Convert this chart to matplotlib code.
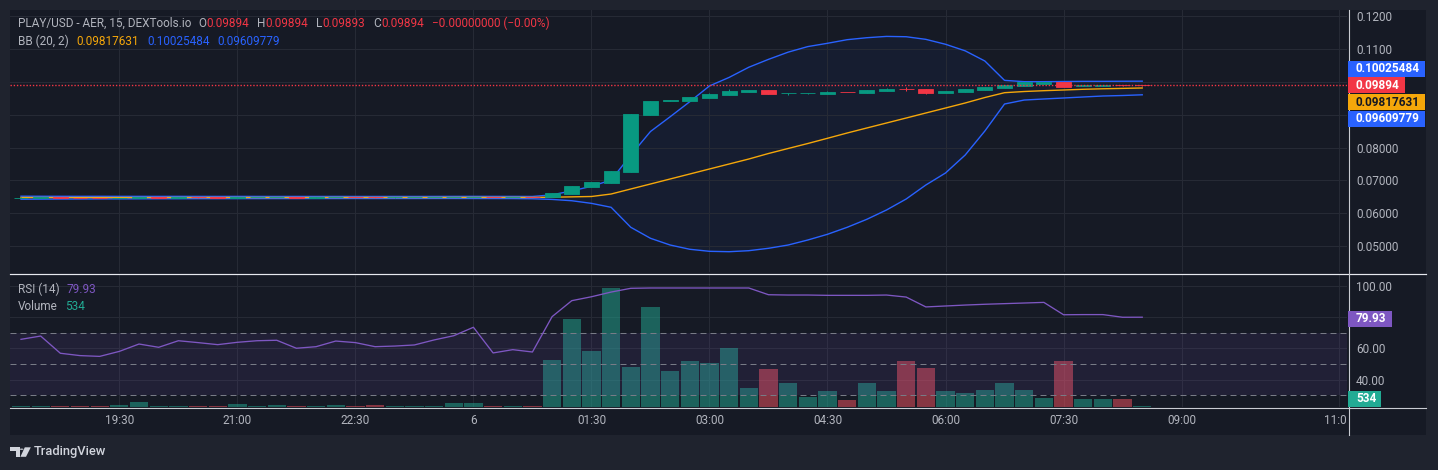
import matplotlib
matplotlib.use("Agg")
import matplotlib.pyplot as plt
from matplotlib.patches import Rectangle, Polygon, Circle
from matplotlib.lines import Line2D

plt.rcParams['font.family'] = ['Roboto', 'DejaVu Sans']
plt.rcParams['lines.scale_dashes'] = False

# ---------------- data (15-minute candles, first = 18:15, last = 08:30) ----------------
opens = [0.06476, 0.06478, 0.06480, 0.06475, 0.06472, 0.06470, 0.06474, 0.06479, 0.06477, 0.06481,
         0.06479, 0.06477, 0.06480, 0.06482, 0.06483, 0.06478, 0.06480, 0.06483, 0.06481, 0.06479,
         0.06480, 0.06481, 0.06484, 0.06487, 0.06492, 0.06485, 0.06487, 0.06490, 0.06600, 0.06800,
         0.06930, 0.07270, 0.09000, 0.09435, 0.09430, 0.09525, 0.09610, 0.09700, 0.09760, 0.09650,
         0.09650, 0.09630, 0.09690, 0.09660, 0.09730, 0.09790, 0.09790, 0.09670, 0.09700, 0.09760,
         0.09820, 0.09890, 0.09950, 0.10000, 0.09890, 0.09890, 0.09910, 0.09894]
highs = [0.06479, 0.06481, 0.06481, 0.06476, 0.06473, 0.06475, 0.06480, 0.06480, 0.06482, 0.06482,
         0.06480, 0.06481, 0.06483, 0.06484, 0.06484, 0.06481, 0.06484, 0.06484, 0.06482, 0.06481,
         0.06482, 0.06485, 0.06488, 0.06493, 0.06493, 0.06488, 0.06488, 0.06625, 0.06835, 0.06955,
         0.07290, 0.09030, 0.09425, 0.09442, 0.09545, 0.09660, 0.09790, 0.09765, 0.09765, 0.09658,
         0.09658, 0.09720, 0.09692, 0.09765, 0.09820, 0.09850, 0.09792, 0.09732, 0.09792, 0.09852,
         0.09912, 0.09992, 0.10002, 0.10002, 0.09912, 0.09912, 0.09912, 0.09894]
lows = [0.06475, 0.06477, 0.06474, 0.06471, 0.06469, 0.06469, 0.06473, 0.06476, 0.06476, 0.06478,
        0.06476, 0.06476, 0.06479, 0.06481, 0.06477, 0.06477, 0.06479, 0.06480, 0.06478, 0.06478,
        0.06479, 0.06480, 0.06483, 0.06486, 0.06484, 0.06484, 0.06483, 0.06485, 0.06595, 0.06798,
        0.06925, 0.07265, 0.08998, 0.09430, 0.09428, 0.09523, 0.09608, 0.09698, 0.09630, 0.09600,
        0.09648, 0.09628, 0.09682, 0.09658, 0.09728, 0.09730, 0.09630, 0.09668, 0.09698, 0.09758,
        0.09818, 0.09888, 0.09948, 0.09855, 0.09888, 0.09888, 0.09888, 0.09893]
closes = [0.06478, 0.06480, 0.06475, 0.06472, 0.06470, 0.06474, 0.06479, 0.06477, 0.06481, 0.06479,
          0.06477, 0.06480, 0.06482, 0.06483, 0.06478, 0.06480, 0.06483, 0.06481, 0.06479, 0.06480,
          0.06481, 0.06484, 0.06487, 0.06492, 0.06485, 0.06487, 0.06484, 0.06616, 0.06829, 0.06951,
          0.07287, 0.09024, 0.09421, 0.09440, 0.09543, 0.09630, 0.09730, 0.09760, 0.09635, 0.09655,
          0.09655, 0.09700, 0.09684, 0.09760, 0.09790, 0.09780, 0.09670, 0.09730, 0.09790, 0.09850,
          0.09910, 0.09990, 0.10000, 0.09860, 0.09910, 0.09910, 0.09895, 0.09894]
candle_up = [1, 1, 0, 0, 0, 1, 1, 0, 1, 0, 0, 1, 1, 1, 0, 1, 1, 0, 0, 1, 1, 1, 1, 1, 0, 1, 0, 1, 1, 1,
             1, 1, 1, 1, 1, 1, 1, 1, 0, 1, 1, 1, 0, 1, 1, 0, 0, 1, 1, 1, 1, 1, 1, 0, 1, 1, 0, 0]

bb_upper = [0.06518, 0.06516, 0.06515, 0.06514, 0.06515, 0.06513, 0.06513, 0.06512, 0.06513, 0.06512,
            0.06511, 0.06512, 0.06511, 0.06510, 0.06511, 0.06510, 0.06511, 0.06510, 0.06510, 0.06511,
            0.06510, 0.06511, 0.06512, 0.06513, 0.06512, 0.06512, 0.06510, 0.06560, 0.06680, 0.06820,
            0.07010, 0.07770, 0.08490, 0.08940, 0.09400, 0.09880, 0.10140, 0.10450, 0.10690, 0.10910,
            0.11080, 0.11180, 0.11290, 0.11350, 0.11390, 0.11380, 0.11300, 0.11150, 0.10950, 0.10640,
            0.10050, 0.10010, 0.10010, 0.10015, 0.10020, 0.10020, 0.10023, 0.10025484]
bb_mid = [0.06478, 0.06478, 0.06477, 0.06477, 0.06477, 0.06477, 0.06477, 0.06477, 0.06478, 0.06478,
          0.06478, 0.06478, 0.06478, 0.06478, 0.06478, 0.06478, 0.06479, 0.06479, 0.06479, 0.06479,
          0.06479, 0.06479, 0.06480, 0.06481, 0.06481, 0.06481, 0.06481, 0.06488, 0.06498, 0.06509,
          0.06585, 0.06738, 0.06890, 0.07043, 0.07195, 0.07348, 0.07500, 0.07652, 0.07820, 0.07973,
          0.08125, 0.08284, 0.08445, 0.08598, 0.08750, 0.08902, 0.09055, 0.09207, 0.09360, 0.09527,
          0.09674, 0.09710, 0.09735, 0.09756, 0.09778, 0.09793, 0.09805, 0.09817631]
bb_lower = [0.06425, 0.06428, 0.06431, 0.06432, 0.06435, 0.06436, 0.06438, 0.06440, 0.06441, 0.06443,
            0.06443, 0.06444, 0.06445, 0.06446, 0.06445, 0.06447, 0.06447, 0.06448, 0.06447, 0.06448,
            0.06448, 0.06449, 0.06449, 0.06448, 0.06447, 0.06446, 0.06440, 0.06420, 0.06380, 0.06300,
            0.06180, 0.05570, 0.05235, 0.05030, 0.04900, 0.04838, 0.04826, 0.04857, 0.04930, 0.05030,
            0.05183, 0.05357, 0.05570, 0.05814, 0.06098, 0.06433, 0.06860, 0.07226, 0.07774, 0.08506,
            0.09329, 0.09450, 0.09482, 0.09512, 0.09543, 0.09573, 0.09588, 0.09609779]

rsi = [65.8, 67.9, 56.9, 55.4, 54.9, 58.1, 62.8, 60.7, 64.9, 63.7,
       62.4, 63.9, 64.9, 65.2, 60.1, 61.1, 64.7, 63.7, 61.1, 61.5,
       62.2, 65.4, 68.1, 73.5, 57.1, 59.2, 57.7, 80.3, 90.5, 93.0,
       96.0, 98.4, 98.6, 98.6, 98.6, 98.6, 98.6, 98.6, 94.3, 94.1,
       94.1, 93.9, 93.9, 93.9, 94.1, 92.8, 86.5, 87.1, 87.7, 88.2,
       88.6, 89.0, 89.4, 81.5, 81.6, 81.6, 79.9, 79.93]

volume = [480, 470, 510, 490, 500, 1020, 2820, 380, 480, 470,
          500, 1620, 490, 1030, 480, 500, 1010, 470, 1040, 480,
          490, 510, 2230, 2210, 480, 470, 490, 28000, 53000, 33400,
          71200, 23800, 59800, 21400, 27400, 26200, 35200, 11200, 22600, 14200,
          5800, 9400, 4000, 14200, 9400, 27400, 23200, 9400, 8200, 10000,
          14200, 10000, 5200, 27400, 4600, 4600, 4600, 534]
volume_up = [1, 1, 0, 0, 0, 1, 1, 1, 1, 0, 0, 1, 1, 1, 0, 1, 1, 0, 0, 1, 1, 1, 1, 1, 0, 1, 0, 1, 1, 1,
             1, 1, 1, 1, 1, 1, 1, 1, 0, 1, 1, 1, 0, 1, 1, 0, 0, 1, 1, 1, 1, 1, 1, 0, 1, 1, 0, 1]

time_tick_idx = [5, 11, 17, 23, 29, 35, 41, 47, 53, 59, 67]
time_tick_labels = ["19:30", "21:00", "22:30", "6", "01:30", "03:00", "04:30", "06:00", "07:30", "09:00", "11:00"]

price_ticks = [0.05, 0.06, 0.07, 0.08, 0.09, 0.10, 0.11, 0.12]
price_tick_labels = ["0.05000", "0.06000", "0.07000", "0.08000", "", "", "0.1100", "0.1200"]
rsi_ticks = [40, 60, 80, 100]
rsi_tick_labels = ["40.00", "60.00", "", "100.00"]

symbol = "PLAY/USD - AER, 15, DEXTools.io"
bb_name = "BB (20, 2)"

# ---------------- style ----------------
W, H, DPI = 1438, 470, 100
FRAME = '#1f232e'
PANEL = '#161a25'
GRID = '#262a35'
TXT = '#b2b5be'
GREEN = '#089981'
RED = '#f23645'
BLUE = '#2962ff'
ORANGE = '#f5a70a'
PURPLE = '#7e57c2'
VGREEN = '#22ab94'
VRED = '#f7525f'
FS = 8.5
PX = 0.72  # one pixel in points

fig = plt.figure(figsize=(W / DPI, H / DPI), dpi=DPI, facecolor=FRAME)


def rect(x0, y0, x1, y1):
    return [x0 / W, 1 - y1 / H, (x1 - x0) / W, (y1 - y0) / H]


def fx(x):
    return x / W


def fy(y):
    return 1 - y / H


fig.patches.append(Rectangle((fx(10), fy(435)), (1416) / W, 425 / H, transform=fig.transFigure,
                             facecolor=PANEL, edgecolor='none', zorder=-10))

XMIN, XMAX = -0.559, 67.41
n = len(closes)
idx = list(range(n))

# ---------------- price pane ----------------
ax_p = fig.add_axes(rect(10, 10, 1347, 272), facecolor=PANEL)
ax_p.set_xlim(XMIN, XMAX)
ax_p.set_ylim(0.042073, 0.12195)
ax_p.set_xticks(time_tick_idx)
ax_p.set_xticklabels([])
ax_p.set_yticks(price_ticks)
ax_p.set_yticklabels(price_tick_labels)
ax_p.yaxis.tick_right()
ax_p.tick_params(axis='both', length=0, labelsize=FS, labelcolor=TXT, pad=6.5)
ax_p.grid(True, color=GRID, lw=1 * PX)
for s in ax_p.spines.values():
    s.set_visible(False)

ax_p.fill_between(idx, bb_lower, bb_upper, color=BLUE, alpha=0.05, lw=0, zorder=1)
ax_p.plot(idx, bb_upper, color=BLUE, lw=1.0, zorder=2)
ax_p.plot(idx, bb_lower, color=BLUE, lw=1.0, zorder=2)
ax_p.plot(idx, bb_mid, color=ORANGE, lw=1.0, zorder=2)

ccol = [GREEN if u else RED for u in candle_up]
ax_p.vlines(idx, lows, highs, colors=ccol, lw=1 * PX, zorder=3)
bottoms = [min(o, c) for o, c in zip(opens, closes)]
heights = [abs(c - o) for o, c in zip(opens, closes)]
ax_p.bar(idx, heights, bottom=bottoms, width=0.76, color=ccol, edgecolor=ccol, linewidth=0.6, zorder=4)

ax_p.axhline(closes[-1], color=RED, lw=1.0, ls=(0, (1.0, 1.3)), zorder=5)

# ---------------- RSI / volume pane ----------------
pane = rect(10, 274, 1347, 407)
RSI_LIM = (22.56, 107.54)
ax_g = fig.add_axes(pane, facecolor=PANEL)
ax_g.set_xlim(XMIN, XMAX)
ax_g.set_ylim(*RSI_LIM)
ax_g.set_xticks(time_tick_idx)
ax_g.set_xticklabels([])
ax_g.set_yticks(rsi_ticks)
ax_g.set_yticklabels(rsi_tick_labels)
ax_g.yaxis.tick_right()
ax_g.tick_params(axis='both', length=0, labelsize=FS, labelcolor=TXT, pad=6.5)
ax_g.grid(True, color=GRID, lw=1 * PX)
for s in ax_g.spines.values():
    s.set_visible(False)

ax_v = fig.add_axes(pane, facecolor='none')
ax_v.set_xlim(XMIN, XMAX)
ax_v.set_ylim(0, 79800)
ax_v.axis('off')
vcol = [VGREEN if u else VRED for u in volume_up]
ax_v.bar(idx, volume, width=0.93, color=vcol, alpha=0.5, lw=0)

ax_r = fig.add_axes(pane, facecolor='none')
ax_r.set_xlim(XMIN, XMAX)
ax_r.set_ylim(*RSI_LIM)
ax_r.axis('off')
ax_r.axhspan(30, 70, color=PURPLE, alpha=0.11, lw=0)
for lvl in (70, 50, 30):
    ax_r.axhline(lvl, color='#787b86', lw=1 * PX, ls=(0, (4.3, 2.9)))
ax_r.plot(idx, rsi, color=PURPLE, lw=0.95)

# ---------------- time axis ----------------
ax_t = fig.add_axes(rect(10, 407, 1347, 435), facecolor='none')
ax_t.set_xlim(XMIN, XMAX)
ax_t.set_ylim(0, 1)
ax_t.axis('off')
for i, lab in zip(time_tick_idx, time_tick_labels):
    ax_t.text(i, 0.5, lab, color=TXT, fontsize=FS, ha='center', va='center', clip_on=True)

# ---------------- borders ----------------
fig.add_artist(Line2D([fx(10), fx(1426)], [fy(273.5)] * 2, transform=fig.transFigure,
                      color='#e6e8ee', lw=1.2 * PX))
fig.add_artist(Line2D([fx(10), fx(1426)], [fy(407.5)] * 2, transform=fig.transFigure,
                      color='#c9ccd3', lw=1.1 * PX))
fig.add_artist(Line2D([fx(1348.5)] * 2, [fy(10), fy(435)], transform=fig.transFigure,
                      color='#c9ccd3', lw=1.1 * PX))

renderer = fig.canvas.get_renderer()


def seq_text(x, y, pieces, size=FS):
    for txt, col, gap in pieces:
        x += gap
        t = fig.text(fx(x), fy(y), txt, color=col, fontsize=size, ha='left', va='center')
        x += t.get_window_extent(renderer=renderer).width
    return x


chg = closes[-1] - closes[-2]
chg_txt = "\u22120.00000000 (\u22120.00%)" if chg < 0 else "+0.00000000 (+0.00%)"
seq_text(18, 23.5, [(symbol, TXT, 0), ("O", TXT, 7), (f"{opens[-1]:.5f}", RED, 0),
                    ("H", TXT, 8), (f"{highs[-1]:.5f}", RED, 0),
                    ("L", TXT, 8), (f"{lows[-1]:.5f}", RED, 0),
                    ("C", TXT, 8), (f"{closes[-1]:.5f}", RED, 0), (chg_txt, RED, 8)])
seq_text(18, 41.5, [(bb_name, TXT, 0), (f"{bb_mid[-1]:.8f}", ORANGE, 8),
                    (f"{bb_upper[-1]:.8f}", BLUE, 8), (f"{bb_lower[-1]:.8f}", BLUE, 8)])
seq_text(18, 289.5, [("RSI (14)", TXT, 0), (f"{rsi[-1]:.2f}", PURPLE, 7)])
seq_text(18, 306, [("Volume", TXT, 0), (f"{volume[-1]}", VGREEN, 7)])


# ---------------- price tags ----------------
def ypx(ax, v):
    return H - ax.transData.transform((0, v))[1]


def tag(yc, text, bg, fg):
    t = fig.text(fx(1356), fy(yc), text, color=fg, fontsize=FS, fontweight='bold',
                 ha='left', va='center', zorder=7)
    w = t.get_window_extent(renderer=renderer).width
    fig.patches.append(Rectangle((fx(1348), fy(yc + 8)), (1356 + w + 5 - 1348) / W, 16 / H,
                                 transform=fig.transFigure, facecolor=bg, edgecolor='none', zorder=6))


STEP = 16.7
items = [(bb_upper[-1], f"{bb_upper[-1]:.8f}", BLUE, 'white', False),
         (closes[-1], f"{closes[-1]:.5f}", RED, 'white', True),
         (bb_mid[-1], f"{bb_mid[-1]:.8f}", ORANGE, '#131722', False),
         (bb_lower[-1], f"{bb_lower[-1]:.8f}", BLUE, 'white', False)]
items.sort(key=lambda it: -it[0])
k = [it[4] for it in items].index(True)
pos = [ypx(ax_p, it[0]) for it in items]
for j in range(k - 1, -1, -1):
    pos[j] = min(pos[j], pos[j + 1] - STEP)
for j in range(k + 1, len(items)):
    pos[j] = max(pos[j], pos[j - 1] + STEP)
for it, yc in zip(items, pos):
    tag(yc, it[1], it[2], it[3])

tag(ypx(ax_r, rsi[-1]) + 1.5, f"{rsi[-1]:.2f}", PURPLE, 'white')
tag(min(ypx(ax_v, volume[-1]), 407 - 8.3), f"{volume[-1]}", VGREEN, 'white')

# ---------------- TradingView logo ----------------
LOGO = '#d1d4dc'


def poly(pts):
    fig.patches.append(Polygon([(fx(x), fy(y)) for x, y in pts], closed=True, transform=fig.transFigure,
                               facecolor=LOGO, edgecolor='none'))


poly([(10, 447.3), (19.5, 447.3), (19.5, 456.8), (15.5, 456.8), (15.5, 451.0), (10, 451.0)])
fig.patches.append(Circle((fx(21.6), fy(449.2)), 1.9 / W, transform=fig.transFigure,
                          facecolor=LOGO, edgecolor='none'))
poly([(24.8, 447.3), (30.8, 447.3), (26.0, 456.8), (20.4, 456.8)])
fig.text(fx(33.5), fy(452), "TradingView", color=LOGO, fontsize=9.3, fontweight='medium',
         ha='left', va='center')

fig.savefig("out.png", dpi=DPI, facecolor=FRAME)
